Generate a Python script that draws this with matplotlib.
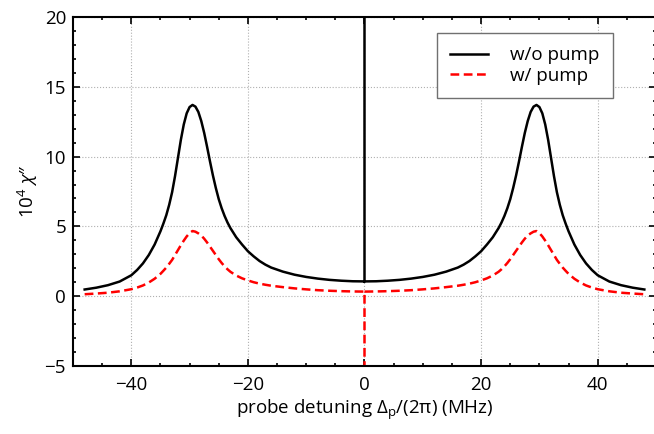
import matplotlib
matplotlib.use('Agg')
import matplotlib.pyplot as plt
from matplotlib.ticker import MultipleLocator
import numpy as np

plt.rcParams['font.family'] = ['Open Sans', 'DejaVu Sans']
plt.rcParams['mathtext.fontset'] = 'custom'
plt.rcParams['mathtext.rm'] = 'Open Sans'
plt.rcParams['mathtext.it'] = 'Open Sans:italic'
plt.rcParams['mathtext.default'] = 'regular'

# probe detuning (MHz), left half; right half is the mirror image
x_half = [-48, -46, -44, -42, -40, -39, -38, -37, -36, -35, -34.5, -34, -33.5,
          -33, -32.5, -32, -31.5, -31, -30.5, -30, -29.5, -29, -28.5, -28,
          -27.5, -27, -26.5, -26, -25.5, -25, -24.5, -24, -23.5, -23, -22, -21,
          -20, -19, -18, -17, -16, -14, -12, -10, -8, -6, -4, -2, 0]

# 10^4 chi'' without pump
no_pump_half = [0.48, 0.61, 0.79, 1.05, 1.5, 1.88, 2.35, 2.95, 3.7, 4.65, 5.2, 5.8, 6.55,
                7.45, 8.6, 9.9, 11.2, 12.3, 13.1, 13.55, 13.7, 13.58, 13.2, 12.55,
                11.7, 10.7, 9.65, 8.65, 7.75, 6.95, 6.3, 5.75, 5.28, 4.88, 4.22, 3.7,
                3.22, 2.85, 2.52, 2.26, 2.05, 1.76, 1.54, 1.38, 1.26, 1.17, 1.11, 1.07, 1.06]

# 10^4 chi'' with pump
pump_half = [0.14, 0.19, 0.25, 0.35, 0.5, 0.62, 0.77, 0.98, 1.25, 1.6, 1.82, 2.05, 2.32,
             2.6, 2.95, 3.3, 3.65, 3.98, 4.28, 4.52, 4.67, 4.62, 4.5, 4.35,
             4.12, 3.85, 3.55, 3.25, 2.95, 2.65, 2.38, 2.14, 1.93, 1.75, 1.48, 1.28,
             1.13, 1.0, 0.9, 0.82, 0.75, 0.65, 0.56, 0.49, 0.43, 0.39, 0.36, 0.34, 0.33]

# narrow feature exactly at zero detuning
no_pump_spike = 60.0
pump_spike = -60.0

x_half = np.array(x_half)
x = np.concatenate([x_half, [0, 0], -x_half[::-1]])
y_no = np.concatenate([no_pump_half, [no_pump_spike, np.nan], no_pump_half[::-1]])
y_pu = np.concatenate([pump_half, [pump_spike, np.nan], pump_half[::-1]])

fig = plt.figure(figsize=(6.54, 4.34), dpi=100)
ax = fig.add_axes([73/654, 68/434, 583/654, 349/434])

ax.plot(x, y_no, color='black', lw=1.8, label='w/o pump')
ax.plot(x, y_pu, color='red', lw=1.8, dashes=(3.5, 1.8), label='w/ pump')

ax.set_xlim(-50, 50)
ax.set_ylim(-5, 20)
ax.xaxis.set_major_locator(MultipleLocator(20))
ax.xaxis.set_minor_locator(MultipleLocator(5))
ax.yaxis.set_major_locator(MultipleLocator(5))
ax.yaxis.set_minor_locator(MultipleLocator(1))
ax.tick_params(which='both', direction='in', top=True, right=True, labelsize=13.5, width=1.2)
ax.tick_params(axis='x', pad=7)
ax.tick_params(axis='y', pad=5)
ax.tick_params(which='major', length=5)
ax.tick_params(which='minor', length=2.5)
for s in ax.spines.values():
    s.set_linewidth(1.5)
ax.grid(True, which='major', color='#b0b0b0', linestyle=':', linewidth=0.8)

ax.set_xlabel(r'probe detuning Δ$_{p}$/(2π) (MHz)', fontsize=13.5, labelpad=3)
ax.set_ylabel(r'10$^{4}$ $\mathit{\chi}$″', fontsize=13.5, labelpad=3)

leg = ax.legend(loc='upper right', bbox_to_anchor=(0.926, 0.954), borderaxespad=0,
                fontsize=13.5, fancybox=False, framealpha=1, edgecolor='#707070',
                handlelength=2.0, handletextpad=1.2, borderpad=0.7, labelspacing=0.15)
leg.get_frame().set_linewidth(1.0)

fig.savefig('out.png', dpi=100)
